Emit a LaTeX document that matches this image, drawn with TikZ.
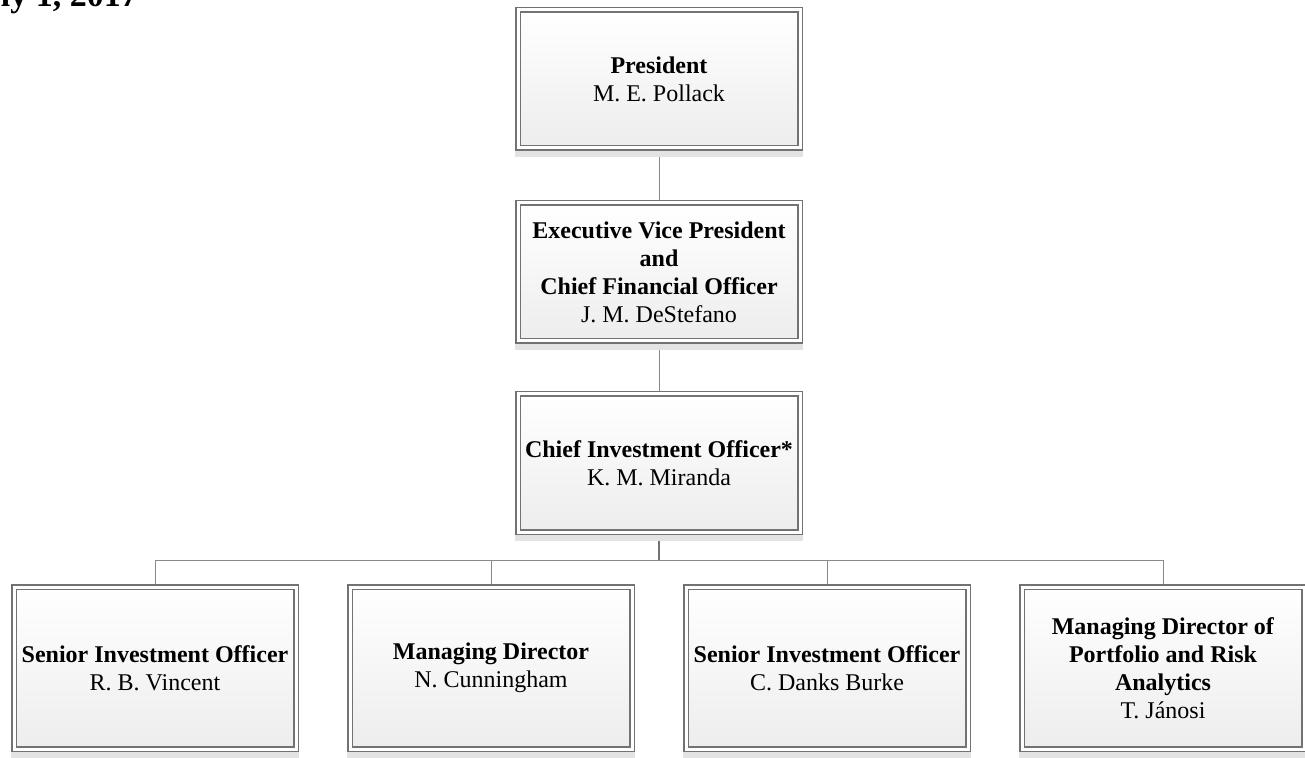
\documentclass[tikz,border=0pt]{standalone}
\usepackage{fontspec}
\setmainfont{Liberation Serif}
\definecolor{framegray}{HTML}{727272}
\definecolor{linkgray}{HTML}{8A8A8A}
\definecolor{shadegray}{HTML}{EDEDED}
\definecolor{shadowgray}{HTML}{E3E3E3}
\tikzset{
  post/.style={draw=framegray, line width=0.75pt, double=white, double distance=1.5pt,
    top color=white, bottom color=shadegray, outer sep=1.5pt, inner sep=2pt,
    align=center, font=\fontsize{12}{14}\selectfont,
    minimum width=141pt, minimum height=69pt},
  staff/.style={post, minimum height=81pt},
  link/.style={draw=linkgray, line width=0.5pt}
}
\begin{document}
\begin{tikzpicture}[x=0.5pt,y=-0.5pt]
  \useasboundingbox (0,0) rectangle (1305,758);
  \node[anchor=base east, font=\fontsize{17}{20}\selectfont\bfseries] (date) at (145,7) {July 1, 2017};
  % upper chain
  \node[post] (pres) at (659,79) {\textbf{President}\\M. E. Pollack};
  \node[post] (evp) at (659,272) {\textbf{Executive Vice President}\\\textbf{and}\\\textbf{Chief Financial Officer}\\J. M. DeStefano};
  \node[post] (cio) at (659,463) {\textbf{Chief Investment Officer*}\\K. M. Miranda};
  \coordinate (bus) at (659,560);
  % staff row
  \foreach \id/\xpos/\ttl/\who in {sioa/155/{\textbf{Senior Investment Officer}}/{R. B. Vincent},
      mdir/491/{\textbf{Managing Director}}/{N. Cunningham},
      siob/827/{\textbf{Senior Investment Officer}}/{C. Danks Burke},
      mdpr/1163/{\textbf{Managing Director of}\\\textbf{Portfolio and Risk}\\\textbf{Analytics}}/{T. Jánosi}} {
    \node[staff] (\id) at (\xpos,668) {\ttl\\\who};
    \draw[link] (\id.north) |- (bus);
  }
  \draw[link] (pres) -- (evp);
  \draw[link] (evp) -- (cio);
  \draw[link, draw=framegray, line width=0.9pt] (cio) -- (bus);
  % shadows
  \foreach \n in {pres,evp,cio,sioa,mdir,siob,mdpr}
    \fill[shadowgray] (\n.south west) rectangle ([yshift=-3pt]\n.south east);
\end{tikzpicture}
\end{document}
